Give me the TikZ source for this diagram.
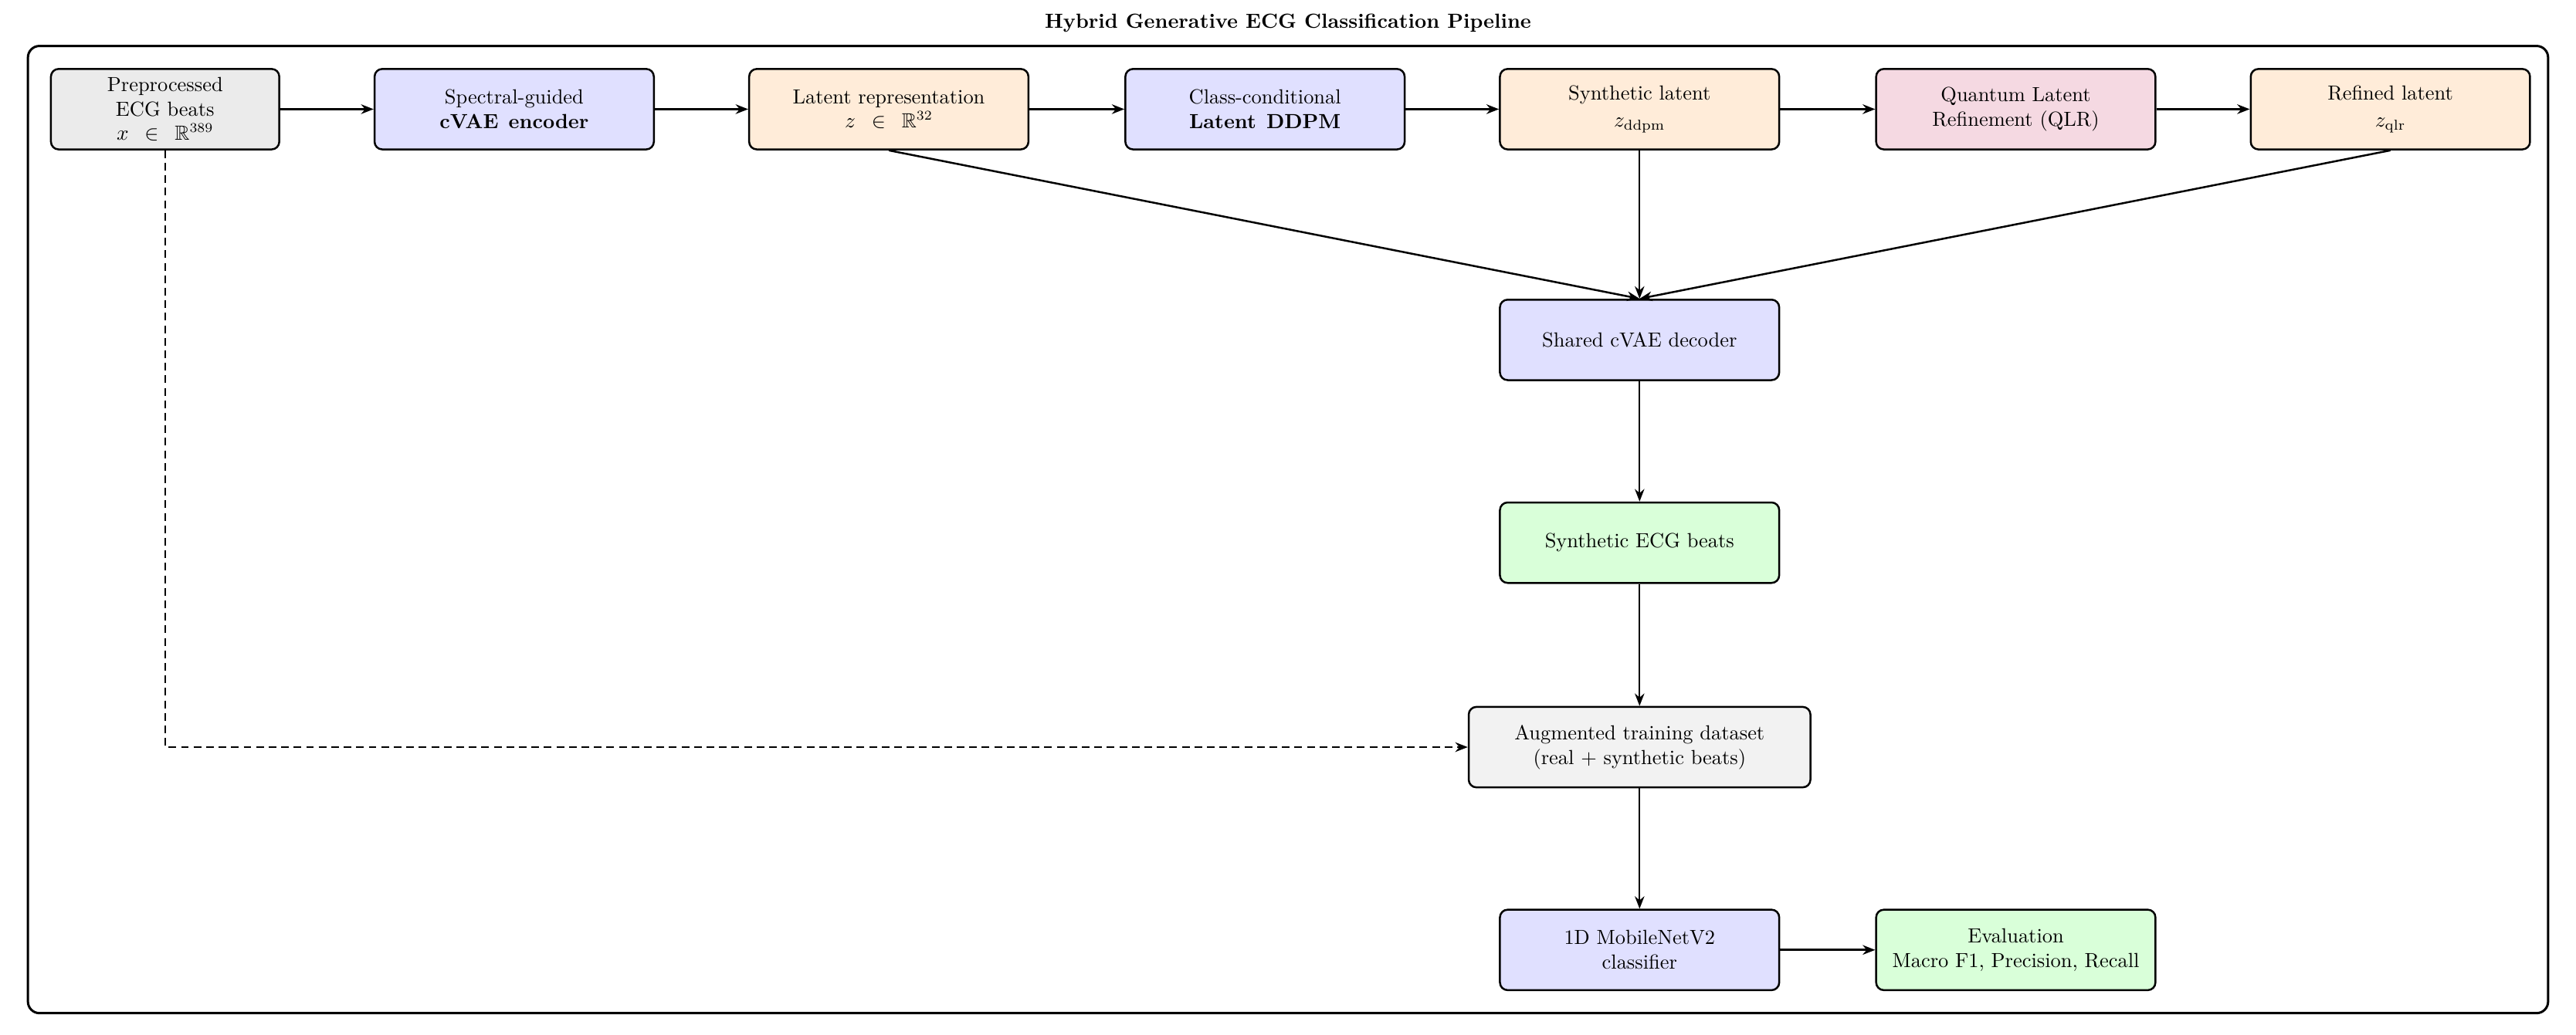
\documentclass[tikz,border=0pt]{standalone}
\usepackage{amsmath,amssymb}
\usepackage{fontspec}
\usetikzlibrary{arrows.meta}

\begin{document}
\begin{tikzpicture}[x=0.3mm,y=0.3mm,>={Stealth[length=6.5pt,width=5pt]}]
  \tikzset{
    box/.style={draw,line width=1pt,rounded corners=4pt,align=center,
      font=\fontsize{10.6}{12.7}\selectfont,
      minimum width=5.1cm,minimum height=1.47cm,inner sep=2pt},
    input/.style={box,fill=black!8,minimum width=4.17cm},
    model/.style={box,fill=blue!12},
    latent/.style={box,fill=orange!15},
    quantum/.style={box,fill=purple!15},
    result/.style={box,fill=green!15},
    dataset/.style={box,fill=black!5,minimum width=6.24cm},
    flow/.style={->,line width=1.1pt},
    down/.style={->,line width=0.8pt},
  }

  \path[use as bounding box] (0,0) rectangle (1568,630);
  \node[font=\fontsize{10.6}{12.7}\selectfont\bfseries] (title) at (784,616) {Hybrid Generative ECG Classification Pipeline};
  \draw[line width=1.2pt,rounded corners=6pt] (17,13) rectangle (1551,602);

  \node[input]   (prep)  at ( 100.5,563.5) {Preprocessed\\ECG beats\\$x\enspace\in\enspace\mathbb{R}^{389}$};
  \node[model]   (enc)   at ( 313,563.5)   {Spectral-guided\\\textbf{cVAE\enspace encoder}};
  \node[latent]  (zlat)  at ( 541,563.5)   {Latent representation\\$z\enspace\in\enspace\mathbb{R}^{32}$};
  \node[model]   (ddpm)  at ( 770,563.5)   {Class-conditional\\\textbf{Latent\enspace DDPM}};
  \node[latent]  (zsyn)  at ( 998,563.5)   {Synthetic latent\\[1pt]$z_{\text{ddpm}}$};
  \node[quantum] (qlr)   at (1227,563.5)   {Quantum Latent\\Refinement (QLR)};
  \node[latent]  (zqlr)  at (1455,563.5)   {Refined latent\\[1pt]$z_{\text{qlr}}$};
  \node[model]   (dec)   at ( 998,423)     {Shared cVAE decoder};
  \node[result]  (synb)  at ( 998,299.5)   {Synthetic ECG beats};
  \node[dataset] (aug)   at ( 998,175)     {Augmented training dataset\\(real + synthetic beats)};
  \node[model]   (clf)   at ( 998,51.5)    {1D MobileNetV2\\classifier};
  \node[result]  (eval)  at (1227,51.5)    {Evaluation\\Macro F1, Precision, Recall};

  \path[flow]
    (prep) edge (enc)
    (enc)  edge (zlat)
    (zlat) edge (ddpm)
    (ddpm) edge (zsyn)
    (zsyn) edge (qlr)
    (qlr)  edge (zqlr)
    (clf)  edge (eval);

  \path[->,line width=1pt]
    (zlat.south) edge (dec.north)
    (zqlr.south) edge (dec.north);

  \path[down]
    (zsyn) edge (dec)
    (dec)  edge (synb)
    (synb) edge (aug)
    (aug)  edge (clf);

  \draw[->,line width=1pt,dash pattern=on 4pt off 2.5pt] (prep.south) |- (aug.west);
\end{tikzpicture}
\end{document}
